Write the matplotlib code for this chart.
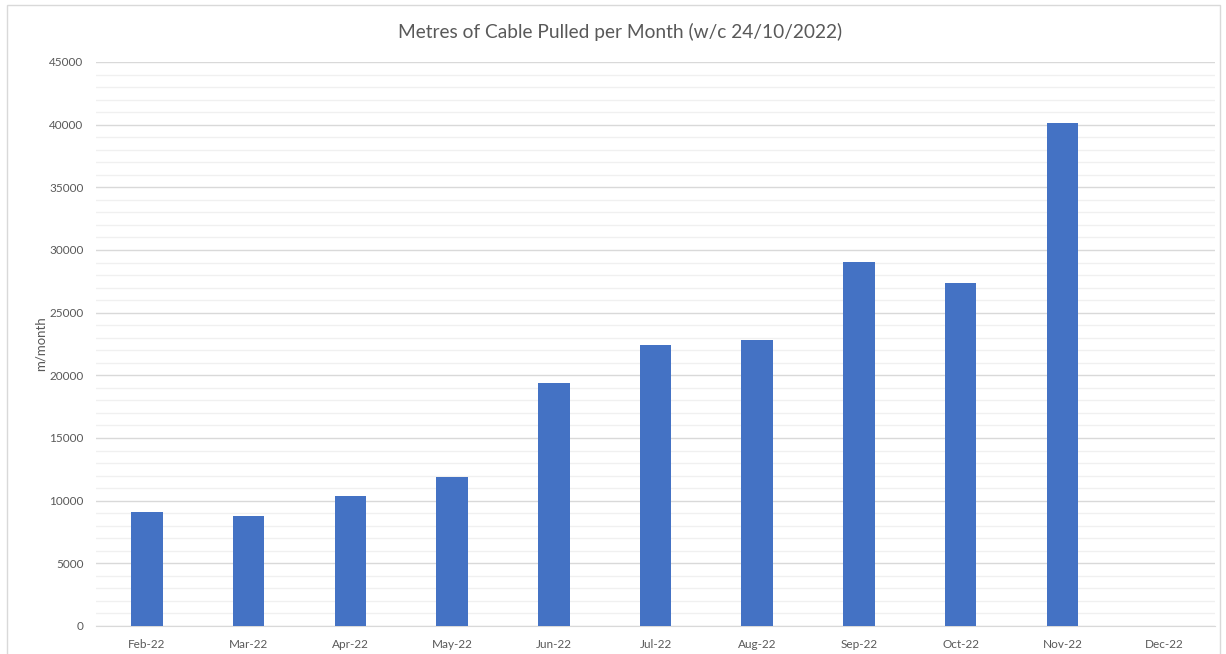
import matplotlib
matplotlib.use("Agg")
import matplotlib.pyplot as plt
from matplotlib.patches import Rectangle
from matplotlib.ticker import MultipleLocator

months = ["Feb-22", "Mar-22", "Apr-22", "May-22", "Jun-22", "Jul-22",
          "Aug-22", "Sep-22", "Oct-22", "Nov-22", "Dec-22"]
metres = [9100, 8780, 10370, 11900, 19380, 22420, 22820, 29040, 27370, 40130, 0]

title = "Metres of Cable Pulled per Month (w/c 24/10/2022)"
ylabel = "m/month"

plt.rcParams['font.family'] = ['Lato', 'DejaVu Sans']

fig = plt.figure(figsize=(12.26, 6.54), dpi=100)
ax = fig.add_axes([96/1226, 1-626/654, (1215-96)/1226, (626-62)/654])

x = list(range(len(months)))
ax.bar(x, metres, width=0.31, color="#4472C4", zorder=3)

ax.set_xlim(-0.5, len(months)-0.5)
ax.set_ylim(0, 45000)
ax.yaxis.set_major_locator(MultipleLocator(5000))
ax.yaxis.set_minor_locator(MultipleLocator(1000))
ax.grid(axis='y', which='major', color="#D9D9D9", linewidth=1.0, zorder=0)
ax.grid(axis='y', which='minor', color="#F0F0F0", linewidth=1.0, zorder=0)
ax.set_xticks(x)
ax.set_xticklabels(months)
ax.tick_params(axis='both', which='both', length=0, labelsize=8.5, colors="#595959")
ax.tick_params(axis='x', pad=9)
ax.tick_params(axis='y', pad=9)
for s in ['top', 'right', 'left']:
    ax.spines[s].set_visible(False)
ax.spines['bottom'].set_color("#D9D9D9")
ax.set_ylabel(ylabel, fontsize=9.5, color="#595959", labelpad=2)
fig.text(620/1226, 1-32/654, title, ha='center', va='center', fontsize=13.8, color="#595959")

fig.patches.append(Rectangle((7/1226, -0.01), (1220-7)/1226, 1-5/654+0.01,
                             transform=fig.transFigure, fill=False,
                             edgecolor="#D9D9D9", linewidth=1.0))

fig.savefig("out.png", dpi=100, facecolor="white")
